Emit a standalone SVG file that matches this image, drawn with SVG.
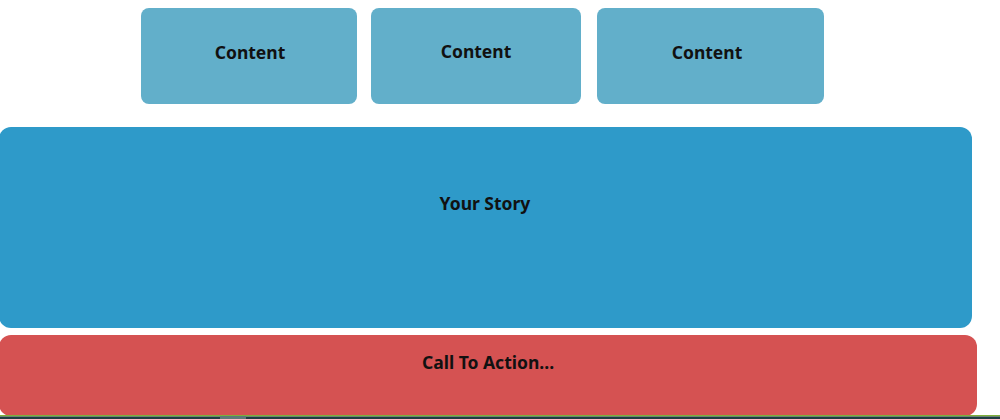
<svg xmlns="http://www.w3.org/2000/svg" width="1000" height="419" viewBox="0 0 1000 419">
<style>
.lbl{font-family:"Noto Sans","Liberation Sans",sans-serif;font-weight:700;font-size:17.5px;fill:#111;text-anchor:middle;dominant-baseline:central}
.content{fill:#62AFCA}
</style>
<rect width="1000" height="419" fill="#ffffff"/>
<g id="content1"><rect class="content" x="141" y="8" width="216" height="96" rx="8"/><text class="lbl" x="250" y="52">Content</text></g>
<g id="content2"><rect class="content" x="371" y="8" width="210" height="96" rx="8"/><text class="lbl" x="476" y="51">Content</text></g>
<g id="content3"><rect class="content" x="597" y="8" width="227" height="96" rx="8" fill="#67B2CC"/><text class="lbl" x="707" y="52">Content</text></g>
<g id="story"><rect x="-1" y="127" width="973" height="201" rx="12" fill="#2E9AC9"/><text class="lbl" x="485" y="203">Your Story</text></g>
<g id="cta"><rect x="-1" y="335" width="978" height="81" rx="12" fill="#D55252"/><text class="lbl" x="488" y="362">Call To Action...</text></g>
<g id="connectors"></g>
<rect x="0" y="415" width="1000" height="1.5" fill="#7FAF3A"/>
<rect x="0" y="416.5" width="1000" height="2.5" fill="#1F3B42"/>
<rect x="220" y="416" width="26" height="3" fill="#5E7A78"/>
</svg>
